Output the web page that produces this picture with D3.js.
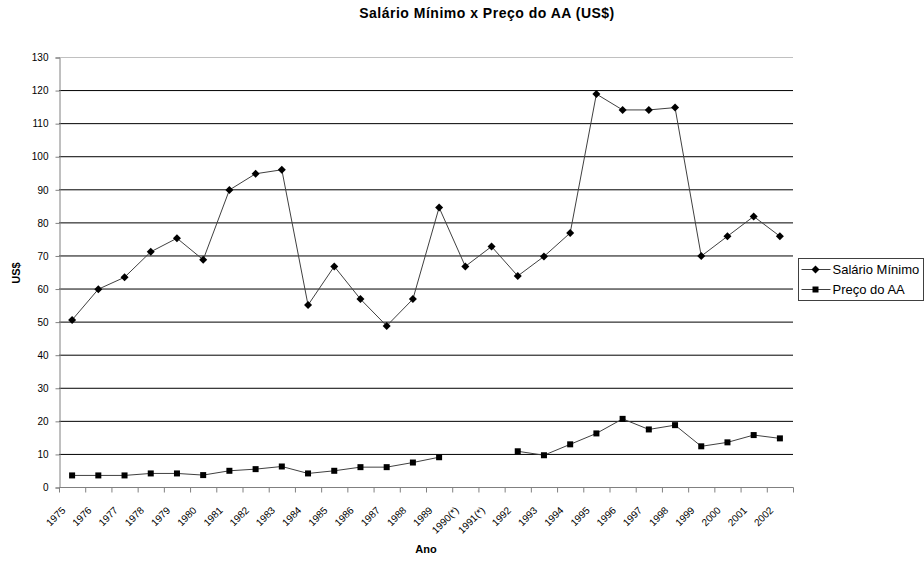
<!DOCTYPE html>
<html>
<head>
<meta charset="utf-8">
<script src="https://cdn.jsdelivr.net/npm/d3@7"></script>
<style>
  body { margin: 0; background: #fff; }
  text { font-family: Arial, "Liberation Sans", sans-serif; fill: #000; }
</style>
</head>
<body>
<svg width="924" height="561"></svg>
<script>
var anos = ["1975", "1976", "1977", "1978", "1979", "1980", "1981", "1982", "1983", "1984",
  "1985", "1986", "1987", "1988", "1989", "1990(*)", "1991(*)", "1992", "1993", "1994",
  "1995", "1996", "1997", "1998", "1999", "2000", "2001", "2002"];

var salarioMinimo = [50.5, 59.8, 63.4, 71.1, 75.2, 68.7, 89.8, 94.7, 95.9, 55.0,
  66.7, 56.8, 48.7, 56.8, 84.5, 66.7, 72.7, 63.8, 69.7, 76.8,
  118.8, 114.0, 114.0, 114.7, 69.8, 75.8, 81.8, 75.8];

var precoAA = [3.5, 3.5, 3.5, 4.1, 4.1, 3.6, 4.9, 5.4, 6.2, 4.1,
  4.9, 6.0, 6.0, 7.4, 9.0, null, null, 10.8, 9.6, 12.9,
  16.2, 20.6, 17.4, 18.7, 12.3, 13.5, 15.7, 14.7];

var yTicks = d3.range(0, 131, 10);

var svg = d3.select("svg"),
    plotLeft = 59, plotRight = 793, plotTop = 57, plotBottom = 487;

var x = d3.scaleBand().domain(anos).range([plotLeft, plotRight]);
var y = d3.scaleLinear().domain([0, 130]).range([plotBottom, plotTop]);

// grid lines
svg.append("g").selectAll("line")
  .data(yTicks.filter(function(d) { return d > 0; }))
  .enter().append("line")
  .attr("x1", plotLeft).attr("x2", plotRight)
  .attr("y1", function(d) { return y(d) + 0.5; })
  .attr("y2", function(d) { return y(d) + 0.5; })
  .attr("stroke", function(d) { return d == 130 ? "#c0c0c0" : "#000"; })
  .attr("stroke-width", 1);

// y axis
var yAxis = svg.append("g")
  .attr("transform", "translate(" + (plotLeft + 0.5) + ",0.5)")
  .call(d3.axisLeft(y).tickValues(yTicks).tickSize(4).tickPadding(7));
yAxis.select(".domain").attr("stroke", "#808080");
yAxis.selectAll(".tick line").attr("stroke", "#808080");
yAxis.selectAll("text").style("font-size", "10px");

// x axis, ticks on category borders
var xg = svg.append("g").attr("transform", "translate(0.5," + (plotBottom + 0.5) + ")");
xg.append("line").attr("x1", plotLeft).attr("x2", plotRight).attr("stroke", "#808080");
xg.selectAll(".tk")
  .data(anos.concat(["end"]))
  .enter().append("line")
  .attr("class", "tk")
  .attr("x1", function(d, i) { return plotLeft + i * x.step(); })
  .attr("x2", function(d, i) { return plotLeft + i * x.step(); })
  .attr("y1", 0).attr("y2", 5)
  .attr("stroke", "#808080");
xg.selectAll(".lbl")
  .data(anos)
  .enter().append("text")
  .attr("class", "lbl")
  .attr("transform", function(d) {
    return "translate(" + (x(d) + x.bandwidth() / 2 - 9) + ",21) rotate(-45)";
  })
  .attr("text-anchor", "end")
  .attr("dy", "0.35em")
  .style("font-size", "10px")
  .text(function(d) { return d; });

// series
var cx = function(i) { return x(anos[i]) + x.bandwidth() / 2; };

var line = d3.line()
  .defined(function(d) { return d != null; })
  .x(function(d, i) { return cx(i); })
  .y(function(d) { return y(d); });

svg.append("path").datum(salarioMinimo)
  .attr("d", line).attr("fill", "none").attr("stroke", "#404040").attr("stroke-width", 1);
svg.append("path").datum(precoAA)
  .attr("d", line).attr("fill", "none").attr("stroke", "#404040").attr("stroke-width", 1);

// square-ish diamond marker like the spreadsheet one
var diamond = "M0,-4L4,0L0,4L-4,0Z";
svg.append("g").selectAll("path")
  .data(salarioMinimo)
  .enter().append("path")
  .attr("d", diamond)
  .attr("transform", function(d, i) { return "translate(" + cx(i) + "," + y(d) + ")"; })
  .attr("fill", "#000");

svg.append("g").selectAll("rect")
  .data(precoAA.map(function(v, i) { return {v: v, i: i}; }).filter(function(d) { return d.v != null; }))
  .enter().append("rect")
  .attr("x", function(d) { return cx(d.i) - 3; })
  .attr("y", function(d) { return y(d.v) - 3; })
  .attr("width", 6).attr("height", 6)
  .attr("fill", "#000");

// titles
svg.append("text")
  .attr("x", 487).attr("y", 18)
  .attr("text-anchor", "middle")
  .style("font-size", "14px").style("font-weight", "bold")
  .style("letter-spacing", "0.5px")
  .text("Salário Mínimo x Preço do AA (US$)");

svg.append("text")
  .attr("x", 426).attr("y", 553)
  .attr("text-anchor", "middle")
  .style("font-size", "11px").style("font-weight", "bold")
  .text("Ano");

svg.append("text")
  .attr("transform", "translate(20," + ((plotTop + plotBottom) / 2 + 1) + ") rotate(-90)")
  .attr("text-anchor", "middle")
  .style("font-size", "11px").style("font-weight", "bold")
  .text("US$");

// legend
var legend = svg.append("g").attr("transform", "translate(798.5,258.5)");
legend.append("rect").attr("width", 125).attr("height", 42)
  .attr("fill", "#fff").attr("stroke", "#404040");
var items = [{name: "Salário Mínimo", shape: "diamond"}, {name: "Preço do AA", shape: "square"}];
var li = legend.selectAll(".item").data(items).enter().append("g")
  .attr("transform", function(d, i) { return "translate(0," + (11 + i * 20) + ")"; });
li.append("line").attr("x1", 3).attr("x2", 32).attr("stroke", "#404040");
li.append("path")
  .attr("d", function(d) {
    return d.shape == "diamond" ? diamond : "M-3,-3H3V3H-3Z";
  })
  .attr("transform", "translate(17,0)")
  .attr("fill", "#000");
li.append("text").attr("x", 34).attr("dy", "0.35em")
  .style("font-size", "13px")
  .text(function(d) { return d.name; });
</script>
</body>
</html>
